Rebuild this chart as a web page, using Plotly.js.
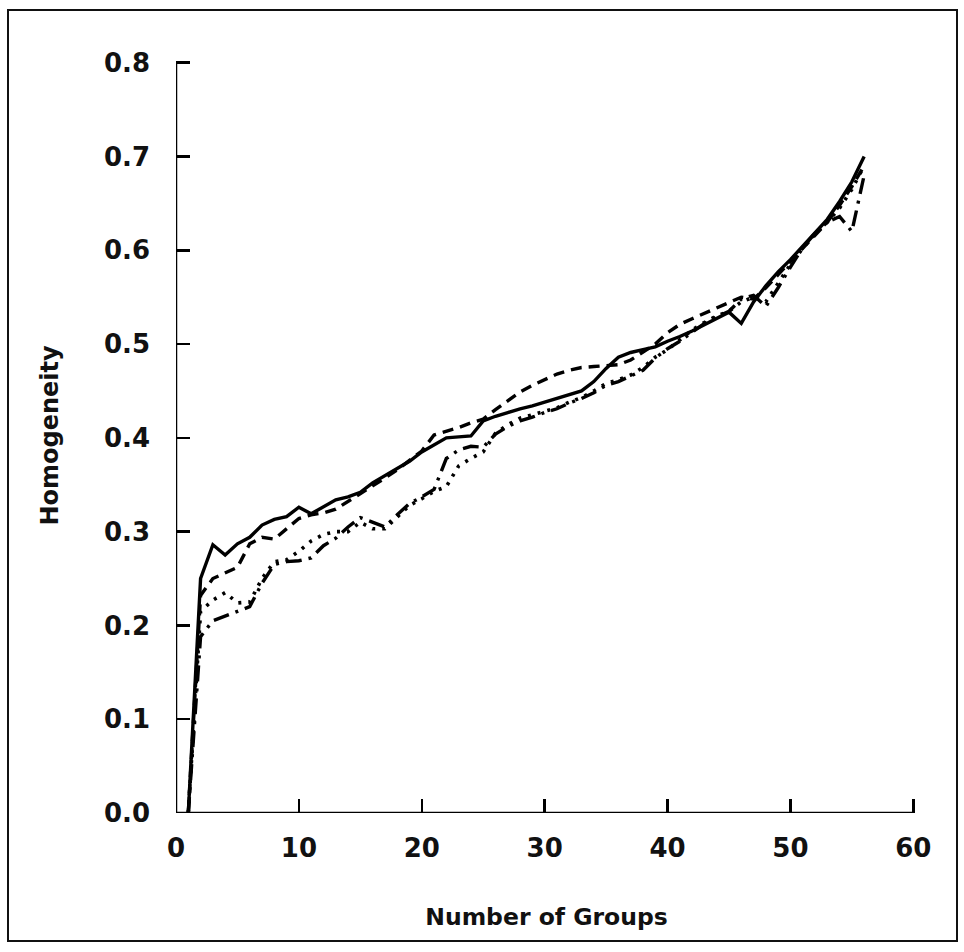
<!DOCTYPE html>
<html>
<head>
<meta charset="utf-8">
<script src="https://cdn.plot.ly/plotly-3.0.1.min.js"></script>
<style>
  html, body { margin: 0; padding: 0; background: #fff; }
  #wrap { position: relative; width: 964px; height: 952px; }
  #chart { position: absolute; left: 0; top: 0; width: 964px; height: 952px; }
  #frame { position: absolute; left: 7px; top: 9px; width: 947px; height: 929px;
           border: 2px solid #111; pointer-events: none; }
</style>
</head>
<body>
<div id="wrap">
  <div id="chart"></div>
  <div id="frame"></div>
</div>
<script>
// Number of groups (x)
const groups = [1,2,3,4,5,6,7,8,9,10,11,12,13,14,15,16,17,18,19,20,
                21,22,23,24,25,26,27,28,29,30,31,32,33,34,35,36,37,38,39,40,
                41,42,43,44,45,46,47,48,49,50,51,52,53,54,55,56];

// Homogeneity, solid line
const solidSeries = [0, 0.25, 0.286, 0.275, 0.287, 0.294, 0.307, 0.313, 0.316, 0.326,
  0.319, 0.327, 0.334, 0.337, 0.342, 0.352, 0.36, 0.367, 0.375, 0.385,
  0.393, 0.40, 0.401, 0.402, 0.418, 0.423, 0.427, 0.431, 0.434, 0.438,
  0.442, 0.446, 0.45, 0.46, 0.474, 0.486, 0.491, 0.494, 0.497, 0.503,
  0.508, 0.514, 0.521, 0.528, 0.534, 0.522, 0.545, 0.562, 0.577, 0.59,
  0.604, 0.618, 0.633, 0.652, 0.673, 0.70];

// Homogeneity, dashed line
const dashedSeries = [0, 0.232, 0.25, 0.256, 0.262, 0.287, 0.294, 0.292, 0.303, 0.314,
  0.318, 0.32, 0.324, 0.332, 0.34, 0.348, 0.357, 0.366, 0.376, 0.386,
  0.403, 0.407, 0.411, 0.416, 0.42, 0.43, 0.439, 0.449, 0.456, 0.462,
  0.468, 0.472, 0.475, 0.476, 0.477, 0.478, 0.483, 0.492, 0.50, 0.512,
  0.521, 0.527, 0.533, 0.539, 0.545, 0.55, 0.548, 0.56, 0.574, 0.588,
  0.602, 0.616, 0.63, 0.648, 0.668, 0.69];

// Homogeneity, dotted line
const dottedSeries = [0, 0.215, 0.227, 0.235, 0.224, 0.225, 0.25, 0.268, 0.27, 0.279,
  0.29, 0.297, 0.30, 0.30, 0.31, 0.303, 0.303, 0.316, 0.328, 0.335,
  0.343, 0.348, 0.37, 0.378, 0.385, 0.405, 0.414, 0.421, 0.425, 0.428,
  0.432, 0.438, 0.443, 0.45, 0.458, 0.462, 0.467, 0.475, 0.486, 0.494,
  0.505, 0.515, 0.523, 0.53, 0.535, 0.545, 0.55, 0.545, 0.565, 0.585,
  0.602, 0.618, 0.63, 0.645, 0.665, 0.69];

// Homogeneity, dash-dot line
const dashDotSeries = [0, 0.188, 0.205, 0.21, 0.215, 0.22, 0.245, 0.265, 0.268, 0.269,
  0.272, 0.285, 0.293, 0.305, 0.315, 0.31, 0.305, 0.318, 0.33, 0.337,
  0.345, 0.378, 0.387, 0.391, 0.39, 0.404, 0.412, 0.418, 0.422, 0.427,
  0.431, 0.437, 0.442, 0.448, 0.456, 0.46, 0.466, 0.472, 0.485, 0.495,
  0.503, 0.513, 0.522, 0.529, 0.535, 0.548, 0.552, 0.54, 0.56, 0.582,
  0.603, 0.618, 0.63, 0.636, 0.62, 0.68];

const xTicks = [0, 10, 20, 30, 40, 50, 60];
const yTicks = [0, 0.1, 0.2, 0.3, 0.4, 0.5, 0.6, 0.7, 0.8];

const FONT = 'DejaVu Sans, Verdana, sans-serif';

function mk(y, dash, width) {
  return { x: groups, y: y, type: 'scatter', mode: 'lines',
           line: { color: '#000', width: width, dash: dash }, showlegend: false,
           hoverinfo: 'skip' };
}

const traces = [
  mk(dashDotSeries, '16px,7px,3px,7px', 3.4),
  mk(dottedSeries, '3px,7px', 3.6),
  mk(dashedSeries, '11px,7px', 3.4),
  mk(solidSeries, 'solid', 3.4)
];

const layout = {
  width: 964, height: 952,
  paper_bgcolor: '#fff', plot_bgcolor: '#fff',
  margin: { l: 176, r: 47, t: 58, b: 139 },
  font: { family: FONT, color: '#000' },
  xaxis: {
    range: [0, 60.3], tickvals: xTicks, ticktext: xTicks.map(String),
    showline: false, mirror: false,
    ticks: 'inside', ticklen: 14, tickwidth: 2.5, tickcolor: '#000',
    showgrid: false, zeroline: false,
    tickfont: { family: FONT, size: 26, color: '#111', weight: 'bold' },
    ticklabelstandoff: 17,
    title: { text: '<b>Number of Groups</b>', font: { family: FONT, size: 23.5, color: '#111' }, standoff: 46 },
    automargin: false
  },
  yaxis: {
    range: [0, 0.805], tickvals: yTicks, tickformat: '.1f',
    showline: false, mirror: false,
    ticks: 'inside', ticklen: 14, tickwidth: 2.5, tickcolor: '#000',
    showgrid: false, zeroline: false,
    tickfont: { family: FONT, size: 26, color: '#111', weight: 'bold' },
    ticklabelstandoff: 25,
    title: { text: '<b>Homogeneity</b>', font: { family: FONT, size: 24, color: '#111' }, standoff: 38 },
    automargin: false
  },
  shapes: [
    // axis lines spanning exactly 0..60 and 0..0.8 (axis decoration)
    { type: 'line', xref: 'x', yref: 'y', x0: 0, x1: 60, y0: 0, y1: 0,
      line: { color: '#000', width: 2.5 } },
    { type: 'line', xref: 'x', yref: 'y', x0: 0, x1: 0, y0: 0, y1: 0.8,
      line: { color: '#000', width: 2.5 } }
  ]
};

Plotly.newPlot('chart', traces, layout, { staticPlot: true, displayModeBar: false });
</script>
</body>
</html>
